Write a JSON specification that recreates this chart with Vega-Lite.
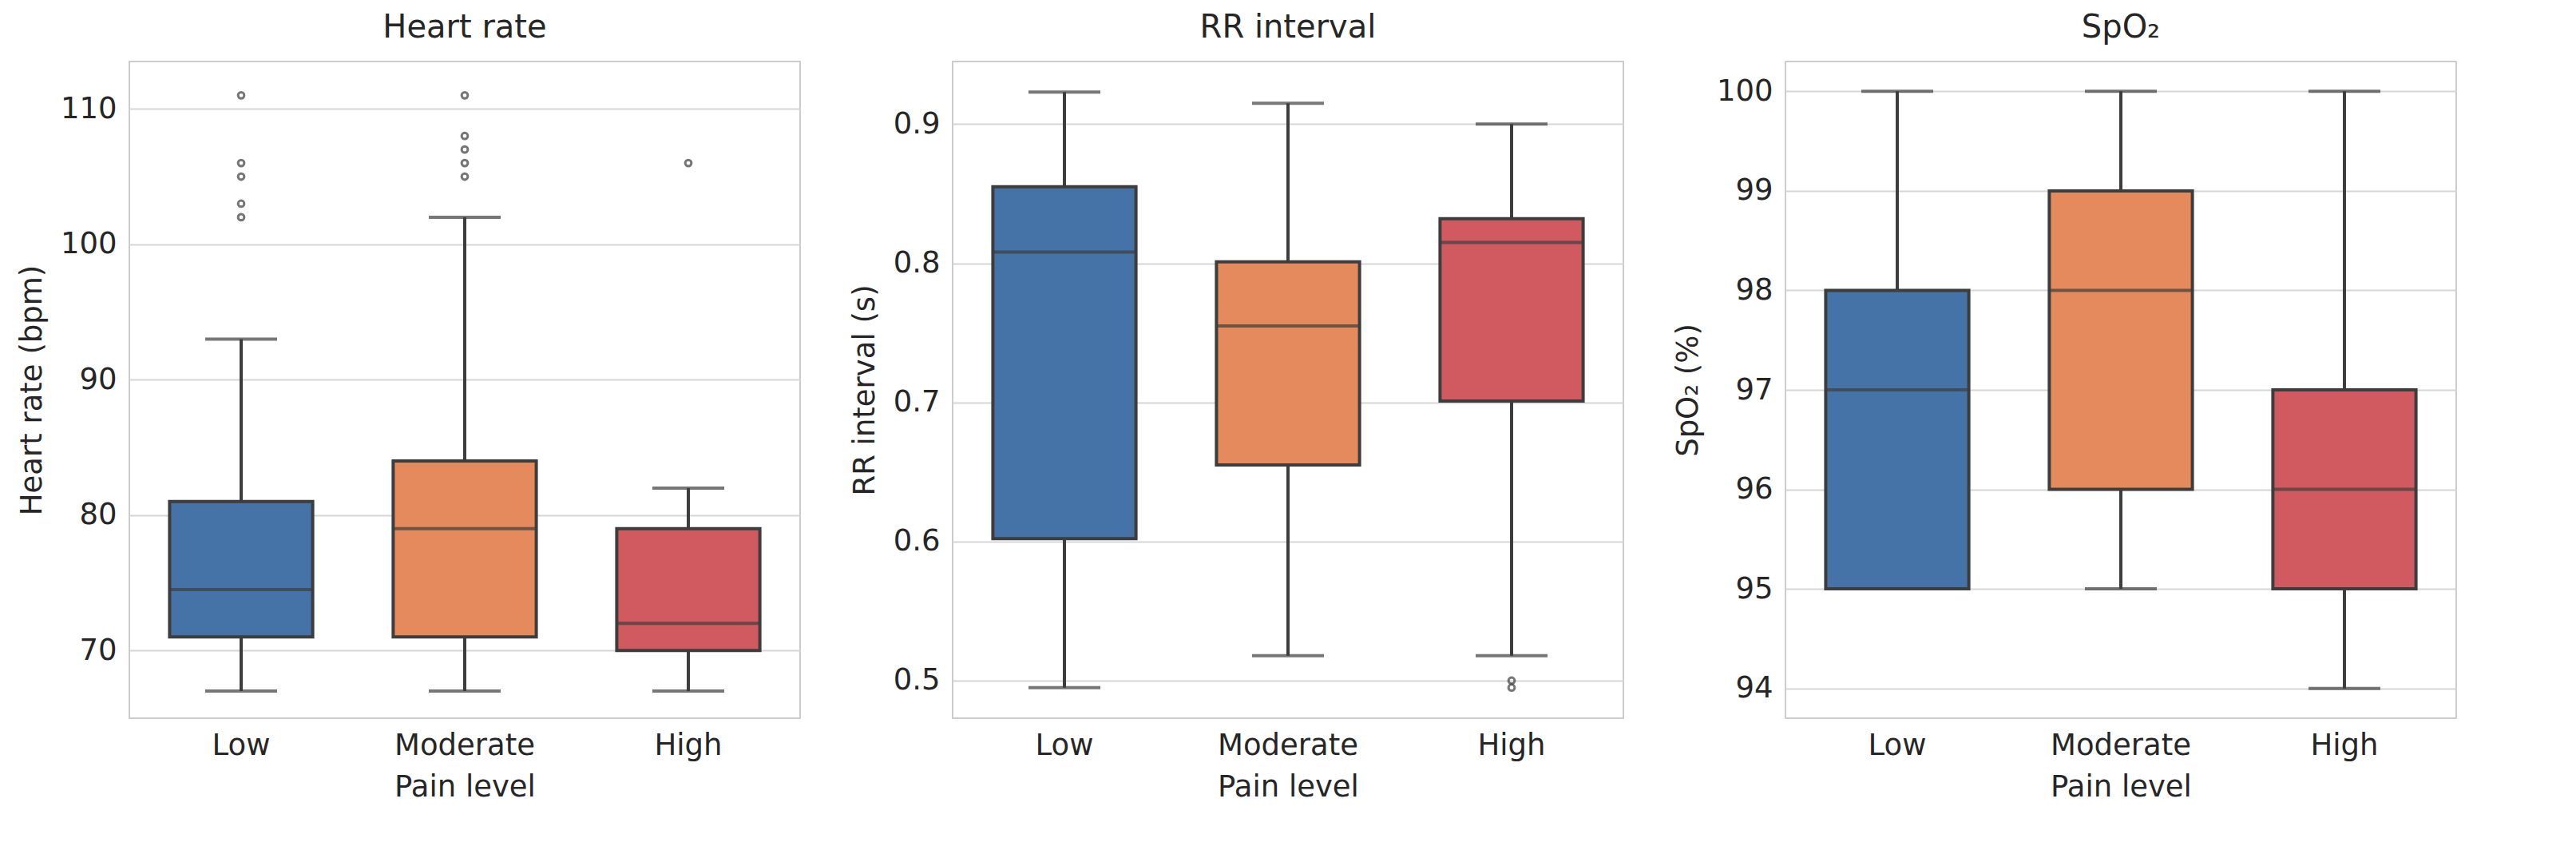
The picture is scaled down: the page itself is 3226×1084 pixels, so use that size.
{
  "$schema": "https://vega.github.io/schema/vega-lite/v6.json",
  "padding": {"left": 20, "right": 20, "top": 14, "bottom": 10},
  "background": "white",
  "datasets": {
    "boxes": [
      {"m": "hr", "pain": "Low", "lo": 67, "q1": 71, "med": 74.5, "q3": 81, "hi": 93},
      {"m": "hr", "pain": "Moderate", "lo": 67, "q1": 71, "med": 79, "q3": 84, "hi": 102},
      {"m": "hr", "pain": "High", "lo": 67, "q1": 70, "med": 72, "q3": 79, "hi": 82},
      {"m": "rr", "pain": "Low", "lo": 0.495, "q1": 0.602, "med": 0.808, "q3": 0.855, "hi": 0.923},
      {"m": "rr", "pain": "Moderate", "lo": 0.518, "q1": 0.655, "med": 0.755, "q3": 0.801, "hi": 0.915},
      {"m": "rr", "pain": "High", "lo": 0.518, "q1": 0.701, "med": 0.815, "q3": 0.832, "hi": 0.9},
      {"m": "sp", "pain": "Low", "lo": 95, "q1": 95, "med": 97, "q3": 98, "hi": 100},
      {"m": "sp", "pain": "Moderate", "lo": 95, "q1": 96, "med": 98, "q3": 99, "hi": 100},
      {"m": "sp", "pain": "High", "lo": 94, "q1": 95, "med": 96, "q3": 97, "hi": 100}
    ],
    "outliers": [
      {"m": "hr", "pain": "Low", "v": 102}, {"m": "hr", "pain": "Low", "v": 103},
      {"m": "hr", "pain": "Low", "v": 105}, {"m": "hr", "pain": "Low", "v": 106},
      {"m": "hr", "pain": "Low", "v": 111},
      {"m": "hr", "pain": "Moderate", "v": 105}, {"m": "hr", "pain": "Moderate", "v": 106},
      {"m": "hr", "pain": "Moderate", "v": 107}, {"m": "hr", "pain": "Moderate", "v": 108},
      {"m": "hr", "pain": "Moderate", "v": 111},
      {"m": "hr", "pain": "High", "v": 106},
      {"m": "rr", "pain": "High", "v": 0.495}, {"m": "rr", "pain": "High", "v": 0.5}
    ]
  },
  "hconcat": [
    {
      "width": 840, "height": 822, "title": "Heart rate",
      "encoding": {"x": {"field": "pain", "type": "nominal", "sort": ["Low", "Moderate", "High"], "title": "Pain level", "scale": {"paddingInner": 0, "paddingOuter": 0}, "axis": {"labelAngle": 0}}},
      "layer": [
        {"data": {"name": "boxes"}, "transform": [{"filter": "datum.m=='hr'"}], "mark": {"type": "rule", "color": "#3d3d3d", "strokeWidth": 4}, "encoding": {"y": {"field": "lo", "type": "quantitative", "title": "Heart rate (bpm)", "scale": {"domain": [65, 113.5], "nice": false, "zero": false}, "axis": {"values": [70, 80, 90, 100, 110]}}, "y2": {"field": "hi"}}},
        {"data": {"name": "boxes"}, "transform": [{"filter": "datum.m=='hr'"}], "mark": {"type": "tick", "color": "#3d3d3d", "thickness": 4, "size": 90}, "encoding": {"y": {"field": "lo", "type": "quantitative"}}},
        {"data": {"name": "boxes"}, "transform": [{"filter": "datum.m=='hr'"}], "mark": {"type": "tick", "color": "#3d3d3d", "thickness": 4, "size": 90}, "encoding": {"y": {"field": "hi", "type": "quantitative"}}},
        {"data": {"name": "boxes"}, "transform": [{"filter": "datum.m=='hr'"}], "mark": {"type": "bar", "width": {"band": 0.64}, "stroke": "#3d3d3d", "strokeWidth": 4}, "encoding": {"y": {"field": "q1", "type": "quantitative"}, "y2": {"field": "q3"}, "color": {"field": "pain", "scale": {"domain": ["Low", "Moderate", "High"], "range": ["#4573a7", "#e58a5d", "#d05a5f"]}, "legend": null}}},
        {"data": {"name": "boxes"}, "transform": [{"filter": "datum.m=='hr'"}], "mark": {"type": "tick", "color": "#3d3d3d", "thickness": 4, "size": 179}, "encoding": {"y": {"field": "med", "type": "quantitative"}}},
        {"data": {"name": "outliers"}, "transform": [{"filter": "datum.m=='hr'"}], "mark": {"type": "point", "color": "#3d3d3d", "strokeWidth": 3, "size": 60}, "encoding": {"y": {"field": "v", "type": "quantitative"}}}
      ]
    },
    {
      "width": 840, "height": 822, "title": "RR interval",
      "encoding": {"x": {"field": "pain", "type": "nominal", "sort": ["Low", "Moderate", "High"], "title": "Pain level", "scale": {"paddingInner": 0, "paddingOuter": 0}, "axis": {"labelAngle": 0}}},
      "layer": [
        {"data": {"name": "boxes"}, "transform": [{"filter": "datum.m=='rr'"}], "mark": {"type": "rule", "color": "#3d3d3d", "strokeWidth": 4}, "encoding": {"y": {"field": "lo", "type": "quantitative", "title": "RR interval (s)", "scale": {"domain": [0.473, 0.945], "nice": false, "zero": false}, "axis": {"values": [0.5, 0.6, 0.7, 0.8, 0.9], "format": ".1f"}}, "y2": {"field": "hi"}}},
        {"data": {"name": "boxes"}, "transform": [{"filter": "datum.m=='rr'"}], "mark": {"type": "tick", "color": "#3d3d3d", "thickness": 4, "size": 90}, "encoding": {"y": {"field": "lo", "type": "quantitative"}}},
        {"data": {"name": "boxes"}, "transform": [{"filter": "datum.m=='rr'"}], "mark": {"type": "tick", "color": "#3d3d3d", "thickness": 4, "size": 90}, "encoding": {"y": {"field": "hi", "type": "quantitative"}}},
        {"data": {"name": "boxes"}, "transform": [{"filter": "datum.m=='rr'"}], "mark": {"type": "bar", "width": {"band": 0.64}, "stroke": "#3d3d3d", "strokeWidth": 4}, "encoding": {"y": {"field": "q1", "type": "quantitative"}, "y2": {"field": "q3"}, "color": {"field": "pain", "scale": {"domain": ["Low", "Moderate", "High"], "range": ["#4573a7", "#e58a5d", "#d05a5f"]}, "legend": null}}},
        {"data": {"name": "boxes"}, "transform": [{"filter": "datum.m=='rr'"}], "mark": {"type": "tick", "color": "#3d3d3d", "thickness": 4, "size": 179}, "encoding": {"y": {"field": "med", "type": "quantitative"}}},
        {"data": {"name": "outliers"}, "transform": [{"filter": "datum.m=='rr'"}], "mark": {"type": "point", "color": "#3d3d3d", "strokeWidth": 3, "size": 60}, "encoding": {"y": {"field": "v", "type": "quantitative"}}}
      ]
    },
    {
      "width": 840, "height": 822, "title": "SpO₂",
      "encoding": {"x": {"field": "pain", "type": "nominal", "sort": ["Low", "Moderate", "High"], "title": "Pain level", "scale": {"paddingInner": 0, "paddingOuter": 0}, "axis": {"labelAngle": 0}}},
      "layer": [
        {"data": {"name": "boxes"}, "transform": [{"filter": "datum.m=='sp'"}], "mark": {"type": "rule", "color": "#3d3d3d", "strokeWidth": 4}, "encoding": {"y": {"field": "lo", "type": "quantitative", "title": "SpO₂ (%)", "scale": {"domain": [93.7, 100.3], "nice": false, "zero": false}, "axis": {"values": [94, 95, 96, 97, 98, 99, 100], "format": "d"}}, "y2": {"field": "hi"}}},
        {"data": {"name": "boxes"}, "transform": [{"filter": "datum.m=='sp'"}], "mark": {"type": "tick", "color": "#3d3d3d", "thickness": 4, "size": 90}, "encoding": {"y": {"field": "lo", "type": "quantitative"}}},
        {"data": {"name": "boxes"}, "transform": [{"filter": "datum.m=='sp'"}], "mark": {"type": "tick", "color": "#3d3d3d", "thickness": 4, "size": 90}, "encoding": {"y": {"field": "hi", "type": "quantitative"}}},
        {"data": {"name": "boxes"}, "transform": [{"filter": "datum.m=='sp'"}], "mark": {"type": "bar", "width": {"band": 0.64}, "stroke": "#3d3d3d", "strokeWidth": 4}, "encoding": {"y": {"field": "q1", "type": "quantitative"}, "y2": {"field": "q3"}, "color": {"field": "pain", "scale": {"domain": ["Low", "Moderate", "High"], "range": ["#4573a7", "#e58a5d", "#d05a5f"]}, "legend": null}}},
        {"data": {"name": "boxes"}, "transform": [{"filter": "datum.m=='sp'"}], "mark": {"type": "tick", "color": "#3d3d3d", "thickness": 4, "size": 179}, "encoding": {"y": {"field": "med", "type": "quantitative"}}}
      ]
    }
  ],
  "spacing": 60,
  "config": {
    "font": "DejaVu Sans",
    "view": {"stroke": "#cccccc", "strokeWidth": 2},
    "title": {"fontSize": 40, "fontWeight": "normal", "color": "#262626", "offset": 22},
    "axis": {"labelFontSize": 37, "titleFontSize": 37, "titleFontWeight": "normal", "labelColor": "#262626", "titleColor": "#262626", "domain": false, "ticks": false, "labelPadding": 16, "titlePadding": 16},
    "axisY": {"grid": true, "gridColor": "#d6d6d6", "gridWidth": 2},
    "axisX": {"grid": false},
    "bar": {"fillOpacity": 1}
  }
}
